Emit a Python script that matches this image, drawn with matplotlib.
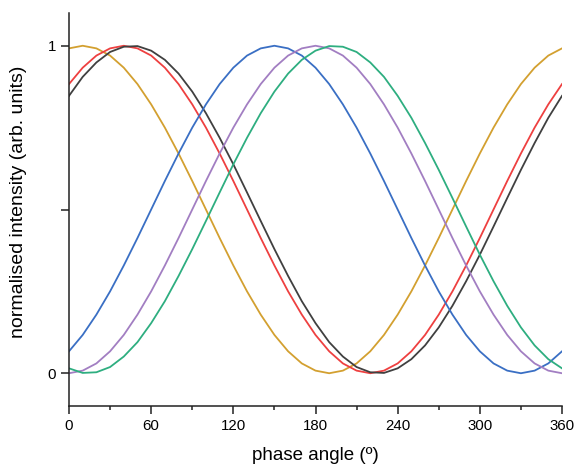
import matplotlib
matplotlib.use("Agg")
import matplotlib.pyplot as plt
import numpy as np

plt.rcParams['font.family'] = ['Liberation Sans', 'DejaVu Sans']

angle = list(range(0, 361, 10))

orange = [0.992, 1.000, 0.992, 0.970, 0.933, 0.883, 0.821, 0.750, 0.671, 0.587,
          0.500, 0.413, 0.329, 0.250, 0.179, 0.117, 0.067, 0.030, 0.008, 0.000,
          0.008, 0.030, 0.067, 0.117, 0.179, 0.250, 0.329, 0.413, 0.500, 0.587,
          0.671, 0.750, 0.821, 0.883, 0.933, 0.970, 0.992]
red = [0.883, 0.933, 0.970, 0.992, 1.000, 0.992, 0.970, 0.933, 0.883, 0.821,
       0.750, 0.671, 0.587, 0.500, 0.413, 0.329, 0.250, 0.179, 0.117, 0.067,
       0.030, 0.008, 0.000, 0.008, 0.030, 0.067, 0.117, 0.179, 0.250, 0.329,
       0.413, 0.500, 0.587, 0.671, 0.750, 0.821, 0.883]
black = [0.847, 0.905, 0.949, 0.981, 0.997, 0.999, 0.985, 0.957, 0.915, 0.860,
         0.794, 0.719, 0.638, 0.552, 0.465, 0.379, 0.297, 0.220, 0.153, 0.095,
         0.051, 0.019, 0.003, 0.001, 0.015, 0.043, 0.085, 0.140, 0.206, 0.281,
         0.362, 0.448, 0.535, 0.621, 0.703, 0.780, 0.847]
blue = [0.067, 0.117, 0.179, 0.250, 0.329, 0.413, 0.500, 0.587, 0.671, 0.750,
        0.821, 0.883, 0.933, 0.970, 0.992, 1.000, 0.992, 0.970, 0.933, 0.883,
        0.821, 0.750, 0.671, 0.587, 0.500, 0.413, 0.329, 0.250, 0.179, 0.117,
        0.067, 0.030, 0.008, 0.000, 0.008, 0.030, 0.067]
purple = [0.000, 0.008, 0.030, 0.067, 0.117, 0.179, 0.250, 0.329, 0.413, 0.500,
          0.587, 0.671, 0.750, 0.821, 0.883, 0.933, 0.970, 0.992, 1.000, 0.992,
          0.970, 0.933, 0.883, 0.821, 0.750, 0.671, 0.587, 0.500, 0.413, 0.329,
          0.250, 0.179, 0.117, 0.067, 0.030, 0.008, 0.000]
green = [0.015, 0.001, 0.003, 0.019, 0.051, 0.095, 0.153, 0.220, 0.297, 0.379,
         0.465, 0.552, 0.638, 0.719, 0.794, 0.860, 0.915, 0.957, 0.985, 0.999,
         0.997, 0.981, 0.949, 0.905, 0.847, 0.780, 0.703, 0.621, 0.535, 0.448,
         0.362, 0.281, 0.206, 0.140, 0.085, 0.043, 0.015]

series = [
    (orange, '#D3A030'),
    (red, '#EE4040'),
    (black, '#404040'),
    (blue, '#3A6FC4'),
    (purple, '#A27EC2'),
    (green, '#2EAE80'),
]

xticks = [0, 60, 120, 180, 240, 300, 360]

fig = plt.figure(figsize=(5.76, 4.67), dpi=100)
ax = fig.add_axes([69/576, 1-406/467, (562-69)/576, (406-13)/467])

for vals, col in series:
    ax.plot(angle, vals, color=col, lw=1.3)

ax.set_xlim(0, 360)
ax.set_ylim(-0.1, 1.1)
ax.set_xticks(xticks)
ax.set_xticks([30, 90, 150, 210, 270, 330], minor=True)
ax.set_yticks([0, 0.5, 1])
ax.set_yticklabels(['0', '', '1'])
for s in ['top', 'right']:
    ax.spines[s].set_visible(False)
for s in ['left', 'bottom']:
    ax.spines[s].set_linewidth(1.1)
    ax.spines[s].set_color('#222222')
ax.tick_params(which='major', direction='out', length=6, width=1.1, labelsize=10.8, color='#222222')
ax.tick_params(which='minor', direction='out', length=3, width=1.1, color='#222222')
ax.set_xlabel('phase angle (º)', fontsize=13.5, labelpad=10)
ax.set_ylabel('normalised intensity (arb. units)', fontsize=14)
ax.yaxis.set_label_coords(-0.085, 0.52)

fig.savefig('out.png', dpi=100)
